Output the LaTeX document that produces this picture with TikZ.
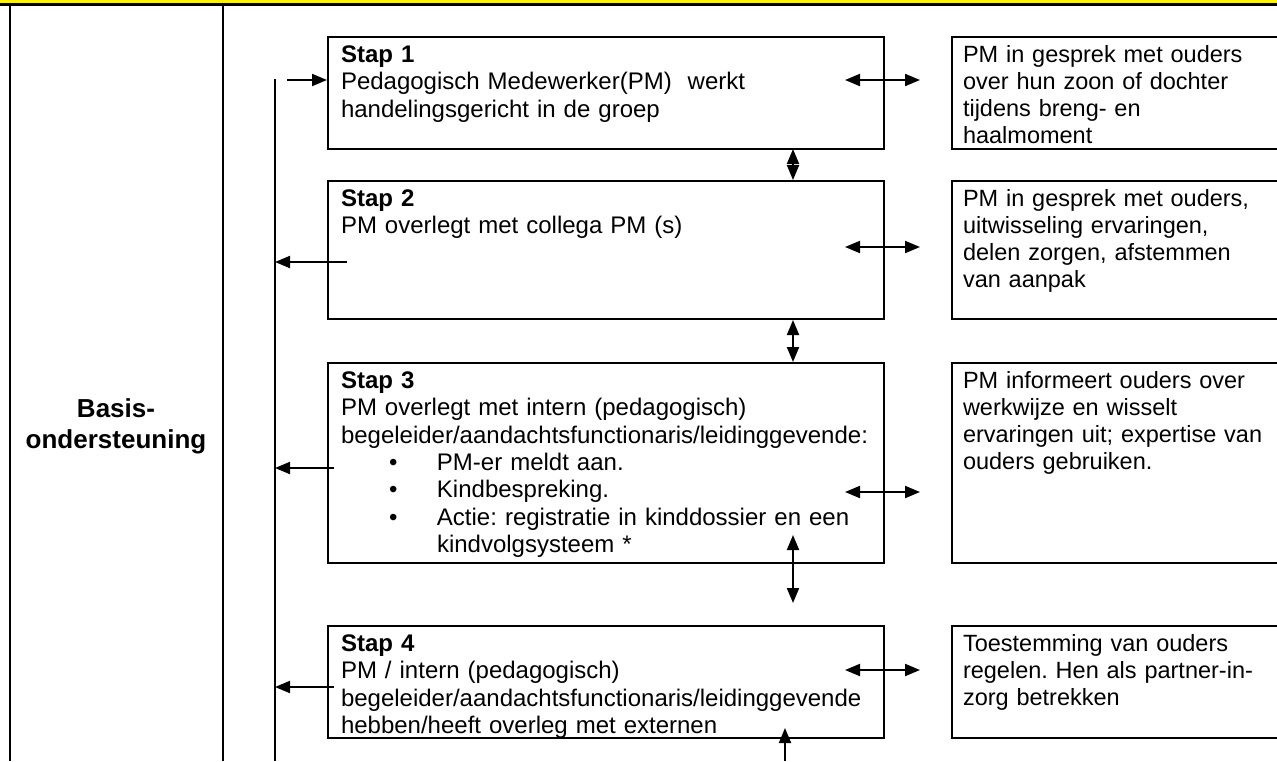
\documentclass[tikz,border=0pt]{standalone}
\usepackage{fontspec}
\setmainfont{Liberation Sans}
\usetikzlibrary{positioning,arrows.meta}

\tikzset{
  stapbox/.style={rectangle, draw, line width=2pt, anchor=north west, align=left,
    text width=530pt, inner xsep=13pt, inner ysep=4pt, text height=21.5pt, text depth=#1,
    font=\fontsize{24}{27.3}\selectfont},
  ouderbox/.style={rectangle, draw, line width=2pt, anchor=north west, align=left,
    text width=330pt, inner xsep=11pt, inner ysep=4pt, text height=21.5pt, text depth=#1,
    font=\fontsize{23.5}{27}\selectfont},
  pijl/.style={-{Triangle[length=15pt,width=12pt]}, line width=2pt},
  dubbelpijl/.style={{Triangle[length=15pt,width=12pt]}-{Triangle[length=15pt,width=12pt]}, line width=2pt}
}

\begin{document}
\frenchspacing
\hyphenpenalty=10000
\exhyphenpenalty=10000
\begin{tikzpicture}[x=1pt, y=-1pt]
        \clip (0,0) rectangle (1277,761);
        % tabel
        \fill[yellow] (0,0) rectangle (1277,4);
        \draw[line width=2.5pt] (0,4.5) -- (1277,4.5);
        \draw[line width=2.2pt] (10,4) -- (10,761);
        \draw[line width=2.2pt] (223,4) -- (223,761);

        \node[font=\bfseries\fontsize{26}{31}\selectfont, align=center] (basisNode) at (116,426) {Basis-\\ondersteuning};

        % stappen
        \node[stapbox=82.5pt] (stapOneNode) at (327,36) {\textbf{Stap 1}\\Pedagogisch Medewerker(PM)\ \ werkt\\handelingsgericht in de groep};
        \node[stapbox=108.5pt] (stapTwoNode) at (327,180) {\textbf{Stap 2}\\PM overlegt met collega PM (s)};
        \node[stapbox=170.5pt] (stapThreeNode) at (327,362) {\textbf{Stap 3}\\PM overlegt met intern (pedagogisch)\\begeleider/aandachtsfunctionaris/leidinggevende:\\
          \hspace*{48pt}\makebox[48pt][l]{\textbullet}PM-er meldt aan.\\
          \hspace*{48pt}\makebox[48pt][l]{\textbullet}Kindbespreking.\\
          \hspace*{48pt}\makebox[48pt][l]{\textbullet}Actie: registratie in kinddossier en een\\
          \hspace*{96pt}kindvolgsysteem *};
        \node[stapbox=82.5pt] (stapFourNode) at (327,625) {\textbf{Stap 4}\\PM / intern (pedagogisch)\\begeleider/aandachtsfunctionaris/leidinggevende\\hebben/heeft overleg met externen};

        % ouders
        \node[ouderbox=82.5pt] (ouderOneNode) at (951,36) {PM in gesprek met ouders\\over hun zoon of dochter\\tijdens breng- en\\haalmoment};
        \node[ouderbox=108.5pt] (ouderTwoNode) at (951,180) {PM in gesprek met ouders,\\uitwisseling ervaringen,\\delen zorgen, afstemmen\\van aanpak};
        \node[ouderbox=170.5pt] (ouderThreeNode) at (951,362) {PM informeert ouders over\\werkwijze en wisselt\\ervaringen uit; expertise van\\ouders gebruiken.};
        \node[ouderbox=82.5pt] (ouderFourNode) at (951,625) {Toestemming van ouders\\regelen. Hen als partner-in-\\zorg betrekken};

        % terugkoppellijn
        \coordinate (lijnTop) at (275,79);
        \coordinate (lijnBottom) at (275,761);
        \draw[line width=1.3pt] (lijnTop) -- (lijnBottom);

        \coordinate (inOne) at (287,80);
        \coordinate (uitTwo) at (347,262);
        \coordinate (uitThree) at (334,468);
        \coordinate (uitFour) at (334,687);
        \draw[pijl] (inOne) -- (stapOneNode.west |- inOne);
        \draw[pijl] (uitTwo) -- (lijnTop |- uitTwo);
        \draw[pijl] (uitThree) -- (lijnTop |- uitThree);
        \draw[pijl] (uitFour) -- (lijnTop |- uitFour);

        % stap <-> ouders
        \foreach \stap/\ypos in {One/80, Two/247, Three/492, Four/670} {
          \coordinate (links\stap) at (845,\ypos);
          \coordinate (rechts\stap) at (920,\ypos);
          \draw[dubbelpijl] (links\stap) -- (rechts\stap);
        }

        % tussen de stappen
        \coordinate (vertOne) at (793,149);
        \coordinate (vertTwo) at (793,320);
        \coordinate (vertThree) at (793,535);
        \coordinate (vertThreeEnd) at (793,603);
        \coordinate (vertFour) at (785,761);
        \draw[dubbelpijl] (vertOne) -- (vertOne |- stapTwoNode.north);
        \draw[dubbelpijl] (vertTwo) -- (vertTwo |- stapThreeNode.north);
        \draw[dubbelpijl] (vertThree) -- (vertThreeEnd);
        \draw[pijl] (vertFour) -- (785,728);
\end{tikzpicture}
\end{document}
